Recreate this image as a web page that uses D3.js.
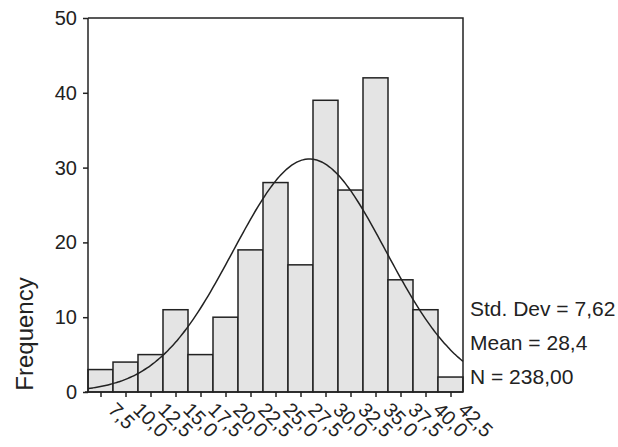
<!DOCTYPE html>
<html>
<head>
<meta charset="utf-8">
<script src="https://cdn.jsdelivr.net/npm/d3@7/dist/d3.min.js"></script>
<style>
  body { margin: 0; background: #fff; }
  svg { display: block; font-family: "Liberation Sans", Arial, sans-serif; }
  .axis path, .axis line { stroke: #222; stroke-width: 1.5; }
  .axis text { fill: #222; font-size: 20px; }
</style>
</head>
<body>
<svg id="chart"></svg>
<script>
// bin centres, counts and the labels SPSS printed under them
const binCenters = [7.5, 10, 12.5, 15, 17.5, 20, 22.5, 25, 27.5, 30, 32.5, 35, 37.5, 40, 42.5];
const binLabels = ['7,5', '10,0', '12,5', '15,0', '17,5', '20,0', '22,5', '25,0', '27,5', '30,0', '32,5', '35,0', '37,5', '40,0', '42,5'];
const counts = [3, 4, 5, 11, 5, 10, 19, 28, 17, 39, 27, 42, 15, 11, 2];
const yTicks = [0, 10, 20, 30, 40, 50];

// summary statistics shown at the right
const statNames = ['Std. Dev', 'Mean', 'N'];
const statValues = [7.62, 28.4, 238];
const statLabels = ['7,62', '28,4', '238,00'];

const binWidth = 2.5;
const svgWidth = 618;
const svgHeight = 447;
const margin = { top: 18, right: 155, bottom: 55, left: 88 };
const chartWidth = svgWidth - margin.left - margin.right;
const chartHeight = svgHeight - margin.top - margin.bottom;

const svg = d3.select('#chart')
  .attr('width', svgWidth)
  .attr('height', svgHeight);

const g = svg.append('g')
  .attr('transform', `translate(${margin.left}, ${margin.top})`);

const xScale = d3.scaleLinear()
  .domain([binCenters[0] - binWidth / 2, binCenters[binCenters.length - 1] + binWidth / 2])
  .range([0, chartWidth]);

const yScale = d3.scaleLinear()
  .domain([0, 50])
  .range([chartHeight, 0]);

// bars
g.selectAll('.bar')
  .data(counts)
  .enter().append('rect')
  .attr('class', 'bar')
  .attr('x', (d, i) => xScale(binCenters[i] - binWidth / 2))
  .attr('y', d => yScale(d))
  .attr('width', xScale(binWidth) - xScale(0))
  .attr('height', d => chartHeight - yScale(d))
  .attr('fill', '#e4e4e4')
  .attr('stroke', '#222')
  .attr('stroke-width', 1.5);

// normal curve fitted from the printed mean / sd / N
const mean = statValues[1], sd = statValues[0], n = statValues[2];
const curveX = d3.range(xScale.domain()[0], xScale.domain()[1] + 0.001, 0.25);
const normal = x => n * binWidth / (sd * Math.sqrt(2 * Math.PI)) * Math.exp(-0.5 * ((x - mean) / sd) ** 2);

g.append('path')
  .datum(curveX)
  .attr('fill', 'none')
  .attr('stroke', '#222')
  .attr('stroke-width', 1.5)
  .attr('d', d3.line().x(d => xScale(d)).y(d => yScale(normal(d))).curve(d3.curveBasis));

// frame: top and right
g.append('path')
  .attr('fill', 'none')
  .attr('stroke', '#222')
  .attr('stroke-width', 1.5)
  .attr('d', `M0,0H${chartWidth}V${chartHeight}`);

// axes
g.append('g')
  .attr('class', 'axis')
  .call(d3.axisLeft(yScale).tickValues(yTicks).tickSize(5).tickPadding(6))
  .call(a => a.select('.domain').attr('d', `M0,${chartHeight}V0`));

const xAxis = g.append('g')
  .attr('class', 'axis')
  .attr('transform', `translate(0, ${chartHeight})`)
  .call(d3.axisBottom(xScale).tickValues(binCenters).tickSize(5)
    .tickFormat((d, i) => binLabels[i]))
  .call(a => a.select('.domain').attr('d', `M-3,0H${chartWidth}`));

xAxis.selectAll('.tick text')
  .attr('x', 0).attr('y', 0).attr('dy', 0)
  .attr('transform', 'translate(6, 19) rotate(45)')
  .style('text-anchor', 'start');

// y axis title
svg.append('text')
  .attr('transform', `translate(33, ${margin.top + chartHeight - 58}) rotate(-90)`)
  .attr('text-anchor', 'middle')
  .attr('fill', '#222')
  .style('font-size', '24px')
  .text('Frequency');

// stats block
svg.selectAll('.stat')
  .data(statNames)
  .enter().append('text')
  .attr('class', 'stat')
  .attr('x', margin.left + chartWidth + 7)
  .attr('y', (d, i) => 316 + i * 34)
  .attr('fill', '#222')
  .style('font-size', '21px')
  .text((d, i) => `${d} = ${statLabels[i]}`);
</script>
</body>
</html>
